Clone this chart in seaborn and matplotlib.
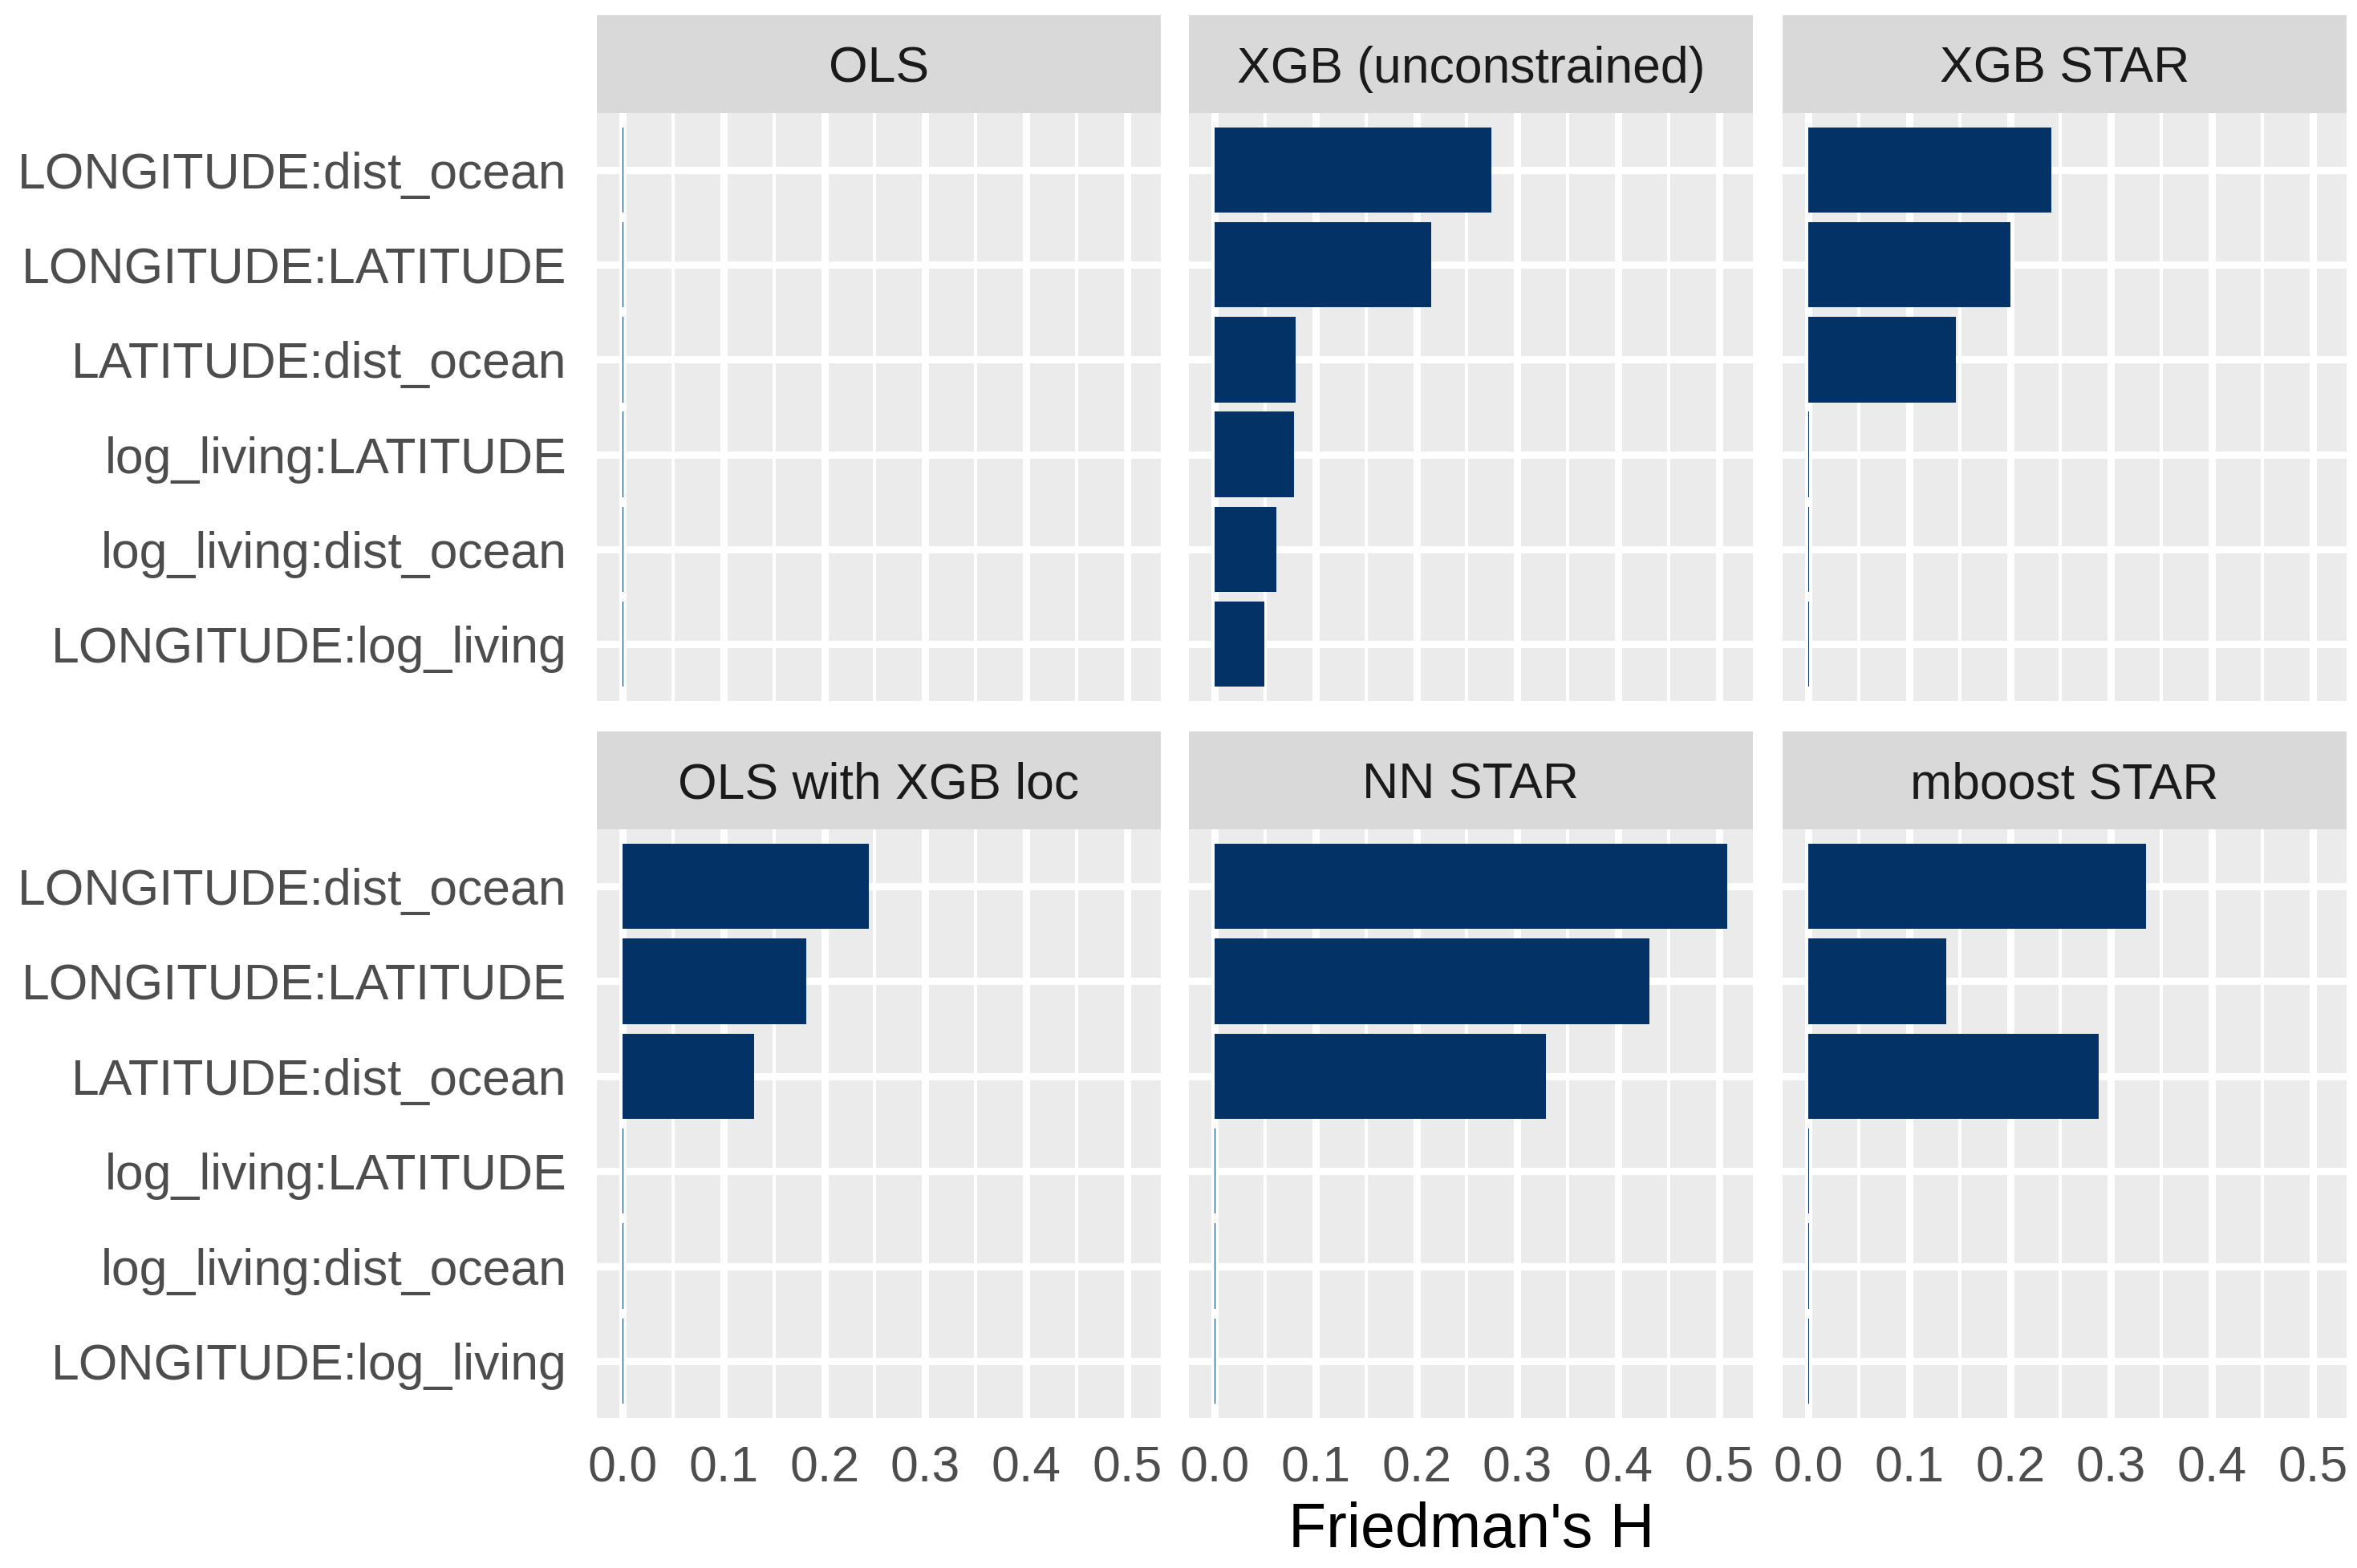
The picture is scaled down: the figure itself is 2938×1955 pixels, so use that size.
import numpy as np
import pandas as pd
import matplotlib
matplotlib.use("Agg")
import matplotlib.pyplot as plt
import seaborn as sns

# ---- data ----
pairs = ["LONGITUDE:dist_ocean", "LONGITUDE:LATITUDE", "LATITUDE:dist_ocean",
         "log_living:LATITUDE", "log_living:dist_ocean", "LONGITUDE:log_living"]
models = ["OLS", "XGB (unconstrained)", "XGB STAR",
          "OLS with XGB loc", "NN STAR", "mboost STAR"]
h_ols = [0.0008, 0.0008, 0.0008, 0.0008, 0.0008, 0.0008]
h_xgb = [0.274, 0.215, 0.080, 0.079, 0.061, 0.049]
h_xgb_star = [0.241, 0.200, 0.146, 0.0008, 0.0008, 0.0008]
h_ols_loc = [0.244, 0.182, 0.130, 0.0008, 0.0008, 0.0008]
h_nn_star = [0.508, 0.431, 0.328, 0.0008, 0.0008, 0.0008]
h_mboost = [0.335, 0.137, 0.288, 0.0008, 0.0008, 0.0008]
xticks = [0.0, 0.1, 0.2, 0.3, 0.4, 0.5]
xlabel = "Friedman's H"

series = [h_ols, h_xgb, h_xgb_star, h_ols_loc, h_nn_star, h_mboost]
df = pd.DataFrame({
    "model": np.repeat(models, len(pairs)),
    "pair": pairs * len(models),
    "H": np.concatenate(series),
})

sns.set_theme(style="white")
plt.rcParams["font.family"] = ["Liberation Sans", "DejaVu Sans"]

W, H = 2938, 1955
DPI = 300
fig = plt.figure(figsize=(W / DPI, H / DPI), dpi=DPI)

bar_color = "#033366"
panel_bg = "#EBEBEB"
strip_bg = "#D9D9D9"

lefts = [744, 1482, 2222]
pw = 703
rows = [(19, 141, 874), (912, 1034, 1768)]  # strip top, panel top, panel bottom

xmax_data = max(max(s) for s in series)
pad = 0.05 * xmax_data
xlim = (-pad, xmax_data + pad)

for i, m in enumerate(models):
    r, c = divmod(i, 3)
    st, pt, pb = rows[r]
    L = lefts[c]
    ax = fig.add_axes([L / W, (H - pb) / H, pw / W, (pb - pt) / H])
    sub = df[df["model"] == m]
    sns.barplot(data=sub, x="H", y="pair", order=pairs, orient="h",
                color=bar_color, saturation=1, width=0.9, errorbar=None,
                ax=ax, zorder=3)
    for p in ax.patches:
        p.set_edgecolor("none")
        p.set_zorder(3)
    ax.set_facecolor(panel_bg)
    ax.set_xlim(*xlim)
    ax.set_ylim(len(pairs) - 0.4, -0.6)
    ax.set_xticks(xticks)
    ax.set_xticks([0.05, 0.15, 0.25, 0.35, 0.45], minor=True)
    ax.grid(True, which="major", axis="both", color="white", linewidth=2.16, zorder=1)
    ax.grid(True, which="minor", axis="x", color="white", linewidth=0.96, zorder=1)
    ax.set_axisbelow(True)
    for s in ax.spines.values():
        s.set_visible(False)
    ax.set_xlabel("")
    ax.set_ylabel("")
    ax.tick_params(axis="both", which="major", length=5, width=2.16, color="#333333",
                   labelsize=15, labelcolor="#4D4D4D")
    ax.tick_params(axis="x", which="minor", length=0)
    ax.tick_params(axis="y", pad=4)
    ax.tick_params(axis="x", pad=3)
    ax.set_xticklabels([f"{t:.1f}" for t in xticks])
    if r == 0:
        ax.tick_params(axis="x", which="major", length=0, labelbottom=False)
    if c != 0:
        ax.tick_params(axis="y", length=0, labelleft=False)

    sax = fig.add_axes([L / W, (H - pt) / H, pw / W, (pt - st) / H])
    sax.set_facecolor(strip_bg)
    sax.set_xticks([])
    sax.set_yticks([])
    for s in sax.spines.values():
        s.set_visible(False)
    sax.text(0.5, 0.45, m, ha="center", va="center", fontsize=15,
             color="#1A1A1A", transform=sax.transAxes)

fig.text((lefts[0] + lefts[2] + pw) / 2 / W, 1 - 1908 / H, xlabel,
         ha="center", va="center", fontsize=18.5, color="black")

fig.savefig("out.png", dpi=DPI, facecolor="white")
